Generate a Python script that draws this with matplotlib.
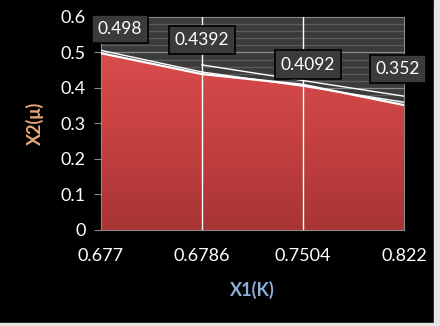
import matplotlib.pyplot as plt
import numpy as np
from matplotlib.colors import LinearSegmentedColormap
from matplotlib.patches import Rectangle

plt.rcParams['font.family'] = ['Lato', 'DejaVu Sans']

# data
x_labels = ['0.677', '0.6786', '0.7504', '0.822']
area_vals = [0.498, 0.4392, 0.4092, 0.352]
edge_vals = [0.506, 0.445, 0.405, 0.360]
upper_vals = [np.nan, 0.465, 0.421, 0.377]
point_labels = ['0.498', '0.4392', '0.4092', '0.352']
label_pos = [(0.19, 0.567), (1.0, 0.536), (2.05, 0.466), (2.94, 0.454)]

x = np.arange(len(x_labels))

fig = plt.figure(figsize=(4.4, 3.26), dpi=100, facecolor='black')
ax = fig.add_axes([0.2295, 0.2945, 0.6886, 0.6534])
ax.set_facecolor('#3b3b3b')

# horizontal gridlines (minor and major) behind the area
for v in np.arange(0.02, 0.6, 0.02):
    major = abs(v * 10 - round(v * 10)) < 1e-6
    ax.axhline(v, color='#8a8a8a' if major else '#5c5c5c', lw=0.9, zorder=1)

# red area with a vertical gradient
poly = ax.fill_between(x, 0, area_vals, color='none', zorder=2)
cmap = LinearSegmentedColormap.from_list('red', ['#a83434', '#c44040', '#d94c4c'])
grad = np.linspace(0, 1, 256).reshape(-1, 1)
img = ax.imshow(grad, extent=[0, 3, 0, 0.5], origin='lower', aspect='auto',
                cmap=cmap, zorder=2)
img.set_clip_path(poly.get_paths()[0], transform=ax.transData)
ax.set_xlim(0, 3)
ax.set_ylim(0, 0.6)

ax.plot(x, area_vals, color='white', lw=1.6, zorder=3)
ax.plot(x, edge_vals, color='white', lw=1.0, zorder=3)
ax.plot(x, upper_vals, color='white', lw=1.0, zorder=3)

# vertical gridlines at categories
for xi in x[1:-1]:
    ax.axvline(xi, color='white', lw=1.0, zorder=4)

for txt, (px, py) in zip(point_labels, label_pos):
    ax.text(px, py, txt, color='white', fontsize=12.5, ha='center', va='center',
            zorder=5, clip_on=False,
            bbox=dict(boxstyle='square,pad=0.35', fc='#3b3b3b', ec='black', lw=1.2))

for s in ax.spines.values():
    s.set_color('#8a8a8a')

ax.set_xticks(x)
ax.set_xticklabels(x_labels)
ax.set_yticks(np.arange(0, 0.61, 0.1))
ax.set_yticklabels(['0', '0.1', '0.2', '0.3', '0.4', '0.5', '0.6'])
ax.tick_params(axis='x', length=0, pad=13, colors='#8a8a8a', labelcolor='white', labelsize=13)
ax.tick_params(axis='y', length=5, pad=6, colors='#8a8a8a', labelcolor='white', labelsize=13)

ax.set_xlabel('X1(K)', color='#8eaedb', fontsize=13, fontweight='bold', labelpad=12)
ax.set_ylabel('X2(μ)', color='#e8a87a', fontsize=13, fontweight='bold', labelpad=12)

# light frame strips at right and bottom edge
fig.patches.append(Rectangle((0.986, 0), 0.014, 1, transform=fig.transFigure,
                             color='#e6e6e6', zorder=0))
fig.patches.append(Rectangle((0, 0), 1, 0.008, transform=fig.transFigure,
                             color='#e6e6e6', zorder=0))

plt.savefig('out.png', dpi=100, facecolor='black')
